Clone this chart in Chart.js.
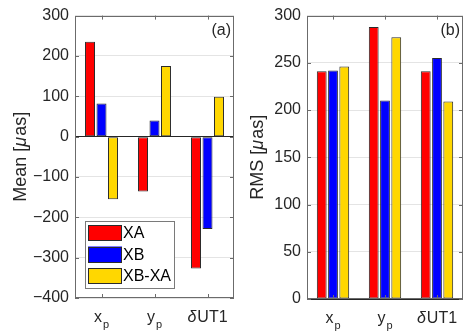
<!DOCTYPE html>
<html>
<head>
<meta charset="utf-8">
<script src="https://cdn.jsdelivr.net/npm/chart.js@4.4.1/dist/chart.umd.min.js"></script>
<style>
  body { margin: 0; background: #fff; width: 463px; height: 336px; overflow: hidden; position: relative; }
  canvas { position: absolute; top: 0; }
</style>
</head>
<body>
<canvas id="meanChart" width="240" height="336" style="left:0"></canvas>
<canvas id="rmsChart" width="231" height="336" style="left:232px"></canvas>
<script>
// categories ("_" marks a subscript)
var categories = ['x_p', 'y_p', '\u03b4UT1'];
var seriesNames = ['XA', 'XB', 'XB-XA'];
var seriesColors = ['#ff0000', '#0000ff', '#ffd700'];

// mean values [µas]
var meanXA = [235, -136, -327];
var meanXB = [82, 40, -229];
var meanDiff = [-155, 175, 99];

// rms values [µas]
var rmsXA = [241, 288, 241];
var rmsXB = [242, 210, 255];
var rmsDiff = [246, 277, 209];

var meanTicks = [-400, -300, -200, -100, 0, 100, 200, 300];
var rmsTicks = [0, 50, 100, 150, 200, 250, 300];

var FONT = '"Liberation Sans", Arial, sans-serif';
var AXIS_COL = '#6b6b6b';
var TEXT_COL = '#262626';

function makeSets(a, b, c) {
  return [a, b, c].map(function (d, i) {
    return {
      label: seriesNames[i],
      data: d,
      backgroundColor: seriesColors[i],
      borderColor: '#2b2b2b',
      borderWidth: 1,
      borderSkipped: false,
      categoryPercentage: 0.65,
      barPercentage: 0.87
    };
  });
}

function fmt(v) {
  return v < 0 ? '\u2212' + Math.abs(v) : '' + v;
}

// draws "x_p" style labels, greek letters in italic
function drawRich(ctx, text, cx, y, size) {
  var parts = text.split('_');
  var main = parts[0], sub = parts[1] || '';
  var fMain = size + 'px ' + FONT, fIt = 'italic ' + size + 'px ' + FONT;
  var fSub = Math.round(size * 0.7) + 'px ' + FONT;
  // split main text into runs of greek / non-greek
  var runs = main.match(/[\u0370-\u03ff]+|[^\u0370-\u03ff]+/g) || [];
  var widths = runs.map(function (r) {
    ctx.font = /[\u0370-\u03ff]/.test(r) ? fIt : fMain;
    return ctx.measureText(r).width + (/[\u0370-\u03ff]/.test(r) ? 1 : 0);
  });
  ctx.font = fSub;
  var ws = sub ? ctx.measureText(sub).width + 1 : 0;
  var total = widths.reduce(function (s, w) { return s + w; }, 0) + ws;
  var x = cx - total / 2;
  ctx.textAlign = 'left';
  ctx.textBaseline = 'alphabetic';
  ctx.fillStyle = TEXT_COL;
  runs.forEach(function (r, i) {
    ctx.font = /[\u0370-\u03ff]/.test(r) ? fIt : fMain;
    ctx.fillText(r, x, y);
    x += widths[i];
  });
  if (sub) { ctx.font = fSub; ctx.fillText(sub, x + 1, y + 6); }
}

var framePlugin = {
  id: 'frame',
  afterDraw: function (chart) {
    var ctx = chart.ctx, a = chart.chartArea;
    var xs = chart.scales.x, ys = chart.scales.y;
    var opts = chart.options.plugins.frame || {};
    ctx.save();
    ctx.strokeStyle = AXIS_COL;
    ctx.lineWidth = 1;
    ctx.strokeRect(Math.round(a.left) + 0.5, Math.round(a.top) + 0.5,
                   Math.round(a.right - a.left) - 1, Math.round(a.bottom - a.top) - 1);
    // inward tick marks
    ctx.beginPath();
    categories.forEach(function (c, i) {
      var px = Math.round(xs.getPixelForValue(i)) + 0.5;
      ctx.moveTo(px, a.bottom); ctx.lineTo(px, a.bottom - 4);
      ctx.moveTo(px, a.top); ctx.lineTo(px, a.top + 4);
    });
    ys.ticks.forEach(function (t) {
      var py = Math.round(ys.getPixelForValue(t.value)) + 0.5;
      ctx.moveTo(a.left, py); ctx.lineTo(a.left + 4, py);
      ctx.moveTo(a.right, py); ctx.lineTo(a.right - 4, py);
    });
    ctx.stroke();
    // category labels
    categories.forEach(function (c, i) {
      drawRich(ctx, c, xs.getPixelForValue(i), a.bottom + 24, 16);
    });
    // y axis title, rotated
    ctx.save();
    ctx.translate(opts.titleX, (a.top + a.bottom) / 2);
    ctx.rotate(-Math.PI / 2);
    drawRich(ctx, opts.title, 0, 6, 18);
    ctx.restore();
    // panel label
    ctx.font = '16px ' + FONT;
    ctx.fillStyle = TEXT_COL;
    ctx.textAlign = 'right';
    ctx.textBaseline = 'alphabetic';
    ctx.fillText(opts.panel || '', a.right - 3, a.top + 19);
    // legend box
    if (opts.legend) {
      var lx = Math.round(a.left) + 10, ly = Math.round(a.bottom) - 77;
      ctx.fillStyle = '#ffffff';
      ctx.fillRect(lx, ly, 89, 67);
      ctx.strokeStyle = '#7a7a7a';
      ctx.strokeRect(lx + 0.5, ly + 0.5, 89, 67);
      chart.data.datasets.forEach(function (ds, i) {
        var sy = ly + 4 + i * 21.5;
        ctx.fillStyle = ds.backgroundColor;
        ctx.fillRect(lx + 3, sy, 34, 16);
        ctx.strokeStyle = '#2b2b2b';
        ctx.strokeRect(lx + 3.5, Math.round(sy) + 0.5, 33, 15);
        ctx.fillStyle = '#000';
        ctx.textAlign = 'left';
        ctx.textBaseline = 'middle';
        ctx.font = '16px ' + FONT;
        ctx.fillText(ds.label, lx + 38, sy + 9);
      });
    }
    ctx.restore();
  }
};

function makeChart(id, sets, yMin, yMax, tickList, title, titleX, pad, xh, panel, legend) {
  return new Chart(document.getElementById(id).getContext('2d'), {
    type: 'bar',
    data: { labels: categories, datasets: sets },
    plugins: [framePlugin],
    options: {
      responsive: false,
      animation: false,
      layout: { padding: pad },
      plugins: {
        legend: { display: false },
        tooltip: { enabled: false },
        frame: { panel: panel, legend: legend, title: title, titleX: titleX }
      },
      scales: {
        x: {
          offset: true,
          grid: { display: false, drawTicks: false },
          border: { display: false },
          ticks: { display: false },
          afterFit: function (s) { s.height = xh; }
        },
        y: {
          min: yMin,
          max: yMax,
          afterBuildTicks: function (s) { s.ticks = tickList.map(function (v) { return { value: v }; }); },
          border: { display: false },
          grid: {
            drawTicks: false,
            color: function (c) { return c.tick && c.tick.value === 0 ? '#262626' : '#e4e4e4'; }
          },
          ticks: {
            padding: 6,
            color: TEXT_COL,
            font: { family: FONT, size: 16 },
            callback: function (v) { return fmt(v); }
          },
          afterFit: function (s) { s.width = 75; }
        }
      }
    }
  });
}

makeChart('meanChart', makeSets(meanXA, meanXB, meanDiff), -400, 300, meanTicks,
  'Mean [\u03bcas]', 20, { top: 13, right: 6, bottom: 0, left: 0 }, 38, '(a)', true);
makeChart('rmsChart', makeSets(rmsXA, rmsXB, rmsDiff), 0, 300, rmsTicks,
  'RMS [\u03bcas]', 25, { top: 13, right: 0, bottom: 0, left: 0 }, 37, '(b)', false);
</script>
</body>
</html>
